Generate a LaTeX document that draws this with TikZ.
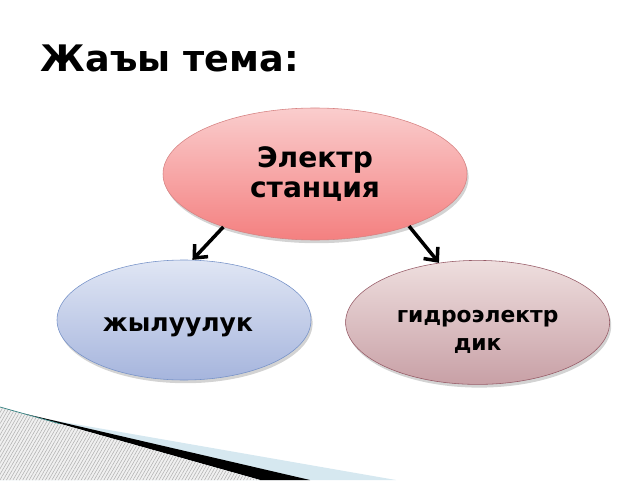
\documentclass[tikz,border=0pt]{standalone}
\usepackage{fontspec}
\setmainfont{DejaVu Sans}
\usepackage{tikz}
\usetikzlibrary{positioning}
\usetikzlibrary{shapes.geometric}
\usetikzlibrary{arrows.meta}
\usetikzlibrary{shadows}
\usetikzlibrary{patterns.meta}
\definecolor{pinktop}{RGB}{250,205,205}
\definecolor{pinkbot}{RGB}{244,128,128}
\definecolor{pinkline}{RGB}{214,130,130}
\definecolor{bluetop}{RGB}{224,230,244}
\definecolor{bluebot}{RGB}{166,181,221}
\definecolor{blueline}{RGB}{118,146,200}
\definecolor{mauvetop}{RGB}{238,222,222}
\definecolor{mauvebot}{RGB}{200,160,166}
\definecolor{mauveline}{RGB}{150,90,102}
\definecolor{bandblue}{RGB}{214,232,240}
\begin{document}
\begin{tikzpicture}[
    oval/.style={ellipse, inner sep=0pt, align=center, font=\bfseries,
      drop shadow={opacity=0.35, shadow xshift=0.04, shadow yshift=-0.08}},
    link/.style={line width=2.5pt, -{Straight Barb[length=2.6mm,width=4.6mm]}}
  ]
          \useasboundingbox (0,0) rectangle (16,12);
          % bottom left corner band
          \fill[bandblue] (0,1.725) -- (9.9,0) -- (0,0) -- cycle;
          \fill[black] (0.6,1.66) -- (7.75,0) -- (6.5,0) -- cycle;
          \fill[gray!12] (0,1.825) -- (6.5,0) -- (0,0) -- cycle;
          \fill[pattern={Lines[angle=60,distance=2pt,line width=0.4pt]}, pattern color=gray!60]
            (0,1.825) -- (6.5,0) -- (0,0) -- cycle;
          \draw[teal!60!gray, line width=0.5pt] (0,1.825) -- (1.5,1.405);
          % title
          \node[anchor=base west, font=\bfseries\fontsize{26}{30}\selectfont] (title) at (0.9,10.2) {Жаъы тема:};
          % ovals
          \node[oval, draw=pinkline, top color=pinktop, bottom color=pinkbot,
            minimum width=7.6cm, minimum height=3.3cm,
            font=\bfseries\fontsize{20}{21.5}\selectfont] (stansia) at (7.875,7.65) {Электр\\станция};
          \node[oval, draw=blueline, top color=bluetop, bottom color=bluebot,
            minimum width=6.35cm, minimum height=3cm,
            font=\bfseries\fontsize{17.8}{20}\selectfont] (jyluu) at (4.6,4.0) {\rule{0pt}{20pt}жылуулук\hspace{0.3cm}};
          \node[oval, draw=mauveline, top color=mauvetop, bottom color=mauvebot,
            minimum width=6.6cm, minimum height=3.1cm,
            font=\bfseries\fontsize{15.5}{20}\selectfont] (gidro) at (11.94,3.94) {\rule{0pt}{22pt}гидроэлектр\\дик};
          % arrows
          \draw[link] (stansia.210) -- (jyluu.82);
          \draw[link] (stansia.331) -- (gidro.123);
        \end{tikzpicture}
\end{document}
